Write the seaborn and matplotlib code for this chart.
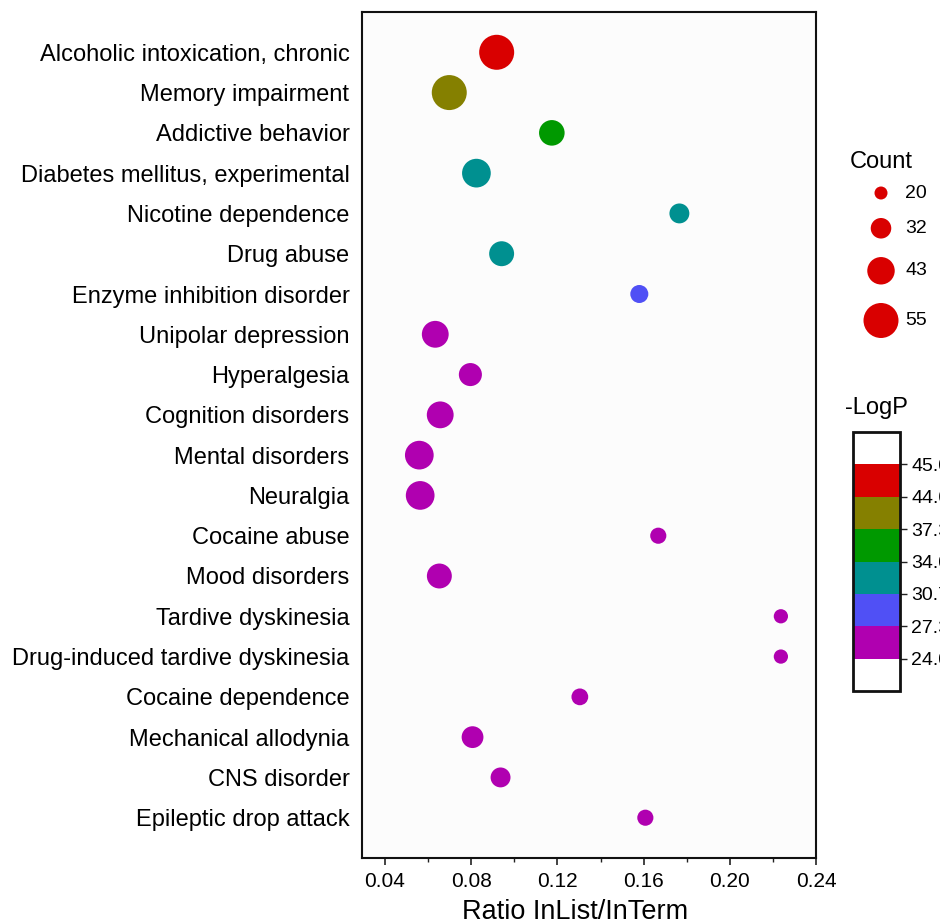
import numpy as np
import pandas as pd
import matplotlib
matplotlib.use("Agg")
import matplotlib.pyplot as plt
from matplotlib.colors import ListedColormap, BoundaryNorm
import seaborn as sns

# ---- data -------------------------------------------------------------
terms = [
    "Alcoholic intoxication, chronic",
    "Memory impairment",
    "Addictive behavior",
    "Diabetes mellitus, experimental",
    "Nicotine dependence",
    "Drug abuse",
    "Enzyme inhibition disorder",
    "Unipolar depression",
    "Hyperalgesia",
    "Cognition disorders",
    "Mental disorders",
    "Neuralgia",
    "Cocaine abuse",
    "Mood disorders",
    "Tardive dyskinesia",
    "Drug-induced tardive dyskinesia",
    "Cocaine dependence",
    "Mechanical allodynia",
    "CNS disorder",
    "Epileptic drop attack",
]
ratio = [0.0918, 0.0698, 0.1174, 0.0824, 0.1766, 0.0941, 0.1580, 0.0633,
         0.0796, 0.0656, 0.0559, 0.0563, 0.1668, 0.0652, 0.2237, 0.2237,
         0.1304, 0.0806, 0.0936, 0.1608]
count = [55, 55, 40, 45, 31, 39, 28, 42, 36, 42, 45, 45, 25, 39, 22, 22,
         26, 34, 31, 25]
neg_log_p = [45.0, 40.5, 35.2, 33.6, 32.1, 31.0, 28.4, 27.0, 26.8, 26.5,
             26.2, 26.0, 25.7, 25.4, 25.1, 25.0, 24.6, 24.3, 24.1, 24.0]

count_legend = [20, 32, 43, 55]
logp_bounds = [24.0, 27.3, 30.7, 34.0, 37.3, 44.0, 45.0]
logp_colors = ["#B000B0", "#5050F5", "#009090", "#009900", "#858000", "#D90000"]

df = pd.DataFrame({"term": terms, "ratio": ratio, "count": count,
                   "logp": neg_log_p})

# ---- styling helpers --------------------------------------------------
def marker_area(c):
    """Marker area (pt^2) whose diameter grows linearly with Count."""
    d_px = 13.0 + (c - 20) * (22.0 / 35.0)
    return (d_px * 0.72) ** 2


def logp_color(v):
    idx = np.searchsorted(logp_bounds, v, side="right") - 1
    idx = int(np.clip(idx, 0, len(logp_colors) - 1))
    return logp_colors[idx]


size_map = {c: marker_area(c) for c in sorted(set(count))}
hue_map = {v: logp_color(v) for v in sorted(set(neg_log_p))}

sns.set_theme(style="white")
plt.rcParams["font.family"] = ["Liberation Sans", "DejaVu Sans"]
plt.rcParams["text.color"] = "black"
plt.rcParams["xtick.color"] = "black"
plt.rcParams["ytick.color"] = "black"
plt.rcParams["axes.labelcolor"] = "black"

W, H = 940, 924
fig = plt.figure(figsize=(W / 100, H / 100), dpi=100)
fig.patch.set_facecolor("white")


def fig_rect(x0, y0, x1, y1):
    return [x0 / W, 1 - y1 / H, (x1 - x0) / W, (y1 - y0) / H]


ax = fig.add_axes(fig_rect(362, 12, 816, 858))
ax.set_facecolor("#fcfcfc")

sns.scatterplot(data=df, x="ratio", y="term", size="count", sizes=size_map,
                hue="logp", palette=hue_map, edgecolor="none", linewidth=0,
                alpha=1.0, legend=False, ax=ax, zorder=3)

ax.set_ylim(len(terms), -1)
ax.set_xlim(0.0293, 0.24)
ax.set_xticks([0.04, 0.08, 0.12, 0.16, 0.20, 0.24])
ax.set_xticklabels(["0.04", "0.08", "0.12", "0.16", "0.20", "0.24"])
ax.set_xticks([0.06, 0.10, 0.14, 0.18, 0.22], minor=True)
ax.tick_params(axis="x", which="major", direction="out", length=5, width=1.2,
               color="#222222", labelsize=15, pad=5, bottom=True)
ax.tick_params(axis="x", which="minor", direction="out", length=3, width=1.0,
               color="#222222", bottom=True)
ax.tick_params(axis="y", length=0, labelsize=17, pad=9)
ax.set_ylabel("")
ax.set_xlabel("Ratio InList/InTerm", fontsize=19.5)
ax.xaxis.set_label_coords(0.469, -0.048)
for sp in ax.spines.values():
    sp.set_visible(True)
    sp.set_color("#111111")
    sp.set_linewidth(1.5)

# ---- Count legend -------------------------------------------------------
fig.text(850 / W, 1 - 162 / H, "Count", fontsize=17, va="center", ha="left")
lax = fig.add_axes(fig_rect(840, 176, 940, 345))
lax.set_xlim(840, 940)
lax.set_ylim(345, 176)
lax.axis("off")
diam = [13.0 + (c - 20) * (22.0 / 35.0) for c in count_legend]
gap = 18.5
centers = []
yc = 193.0
for i, d in enumerate(diam):
    if i > 0:
        yc += (diam[i - 1] + d) / 2 + gap
    centers.append(yc)
lax.scatter([881] * len(count_legend), centers,
            s=[marker_area(c) for c in count_legend], color="#D90000",
            edgecolor="none", clip_on=False)
for c, y in zip(count_legend, centers):
    lax.text(905, y, str(c), fontsize=14, va="center", ha="left")

# ---- -LogP colour key ----------------------------------------------------
fig.text(845 / W, 1 - 408 / H, "-LogP", fontsize=17, va="center", ha="left")
cax = fig.add_axes(fig_rect(853, 432, 900, 691))
bounds = [logp_bounds[0] - 3.3] + logp_bounds + [logp_bounds[-1] + 3.3]
cmap = ListedColormap(["white"] + logp_colors + ["white"])
norm = BoundaryNorm(bounds, cmap.N)
cb = fig.colorbar(matplotlib.cm.ScalarMappable(norm=norm, cmap=cmap), cax=cax,
                  spacing="uniform", ticks=logp_bounds)
cb.ax.minorticks_off()
cb.ax.set_yticklabels([f"{b:.1f}" for b in logp_bounds])
cb.ax.tick_params(length=5, width=1.0, color="#222222", labelsize=14,
                  direction="out", right=True, pad=3)
cb.outline.set_linewidth(2.0)
cb.outline.set_edgecolor("#111111")

fig.savefig("out.png", dpi=100)
